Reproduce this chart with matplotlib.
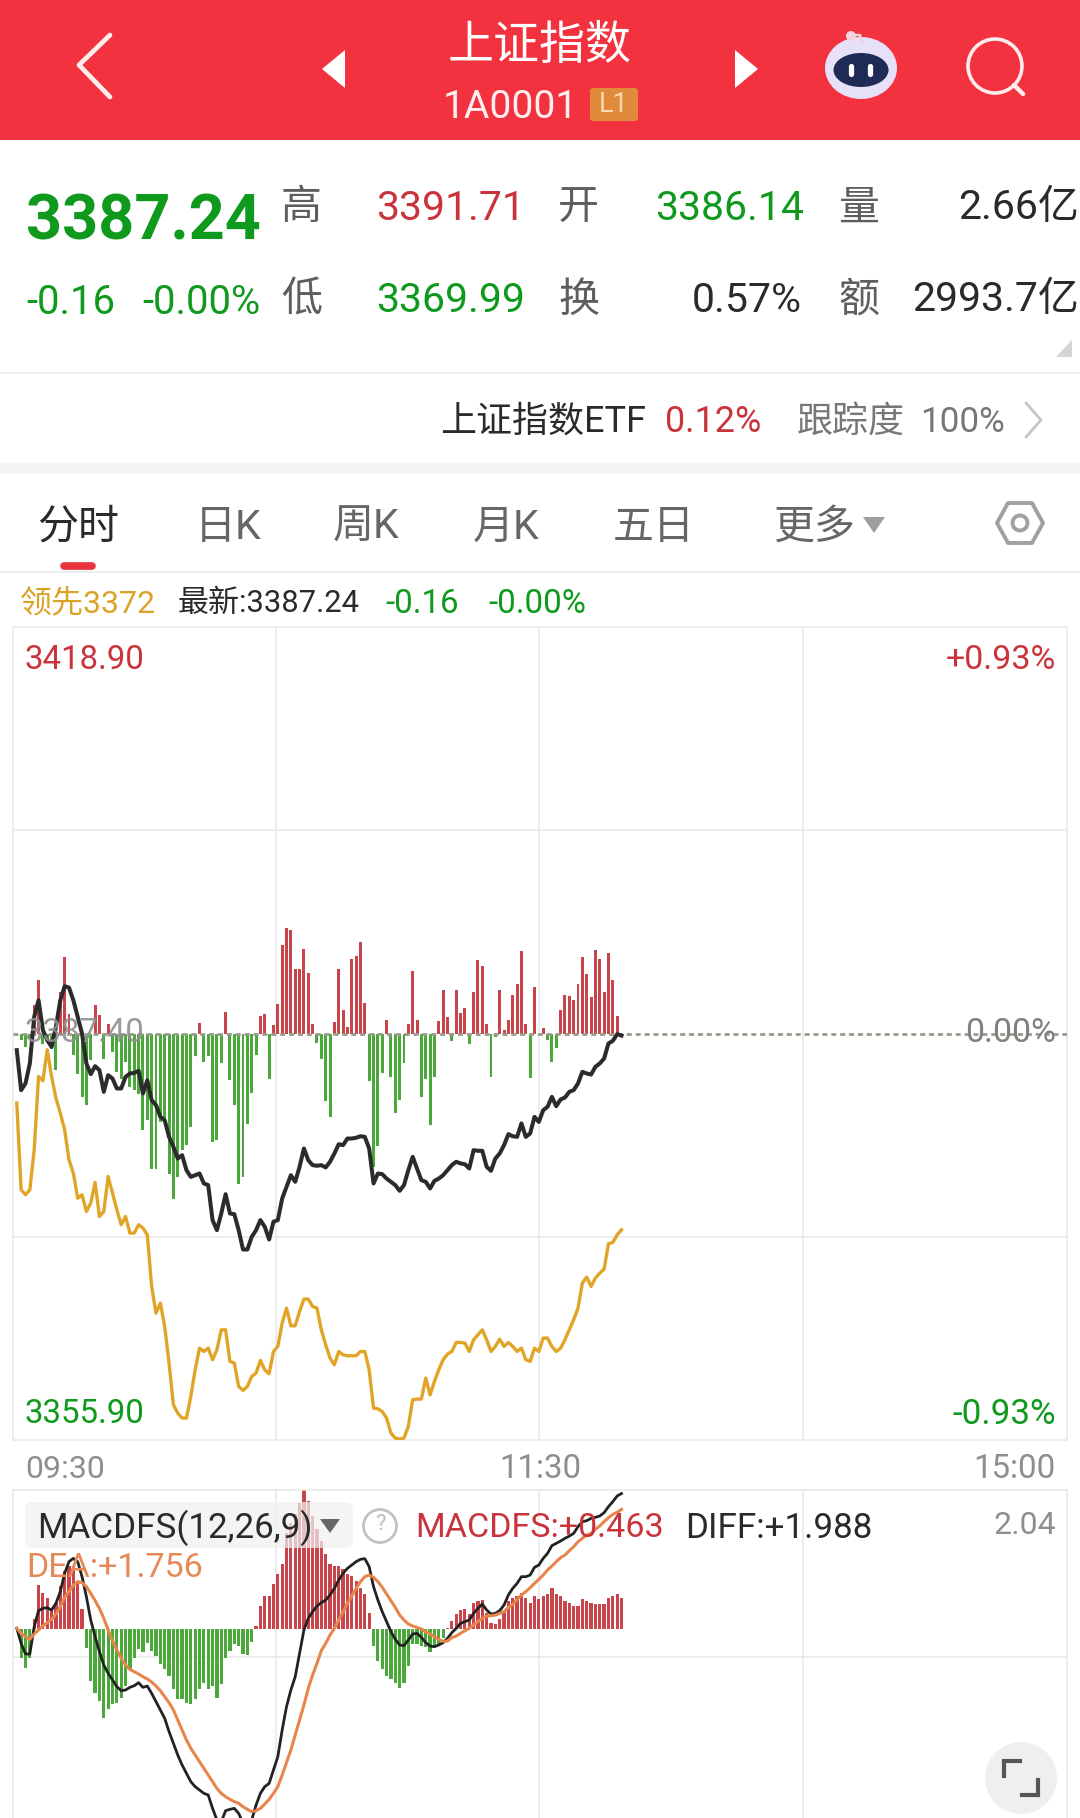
import numpy as np
import matplotlib
matplotlib.use('Agg')
import matplotlib.pyplot as plt
from matplotlib.patches import Rectangle, Circle, FancyBboxPatch, Polygon, Ellipse

plt.rcParams['font.family'] = ['Roboto', 'Noto Sans CJK SC', 'DejaVu Sans']

# ---------- data ----------
PREV_CLOSE = 3387.40
PRICE_LOW_AXIS = 3355.90
PRICE_HIGH_AXIS = 3418.90

price = [3386.11,3383.01,3383.53,3385.08,3388.69,3389.98,3387.66,3386.88,3386.37,3387.92,
3389.98,3391.07,3390.96,3389.98,3388.69,3387.40,3385.08,3384.25,3384.87,3384.56,
3382.88,3384.17,3383.91,3383.14,3383.14,3384.04,3384.30,3384.35,3384.51,3382.75,
3383.78,3382.23,3381.85,3380.94,3380.68,3379.39,3378.62,3377.71,3377.97,3376.81,
3376.29,3376.42,3376.55,3375.78,3375.65,3372.94,3372.16,3373.45,3374.95,3373.45,
3373.40,3372.16,3370.66,3370.66,3371.64,3372.16,3372.94,3372.42,3371.44,3372.81,
3372.94,3374.61,3375.52,3376.42,3375.91,3377.07,3378.49,3377.58,3377.20,3377.15,
3377.20,3377.02,3377.46,3378.10,3378.82,3378.75,3379.26,3379.26,3379.32,3379.44,
3379.39,3378.49,3375.78,3376.55,3376.50,3376.16,3375.91,3375.65,3375.21,3375.65,
3376.81,3377.84,3376.94,3376.03,3375.91,3375.39,3375.98,3376.16,3376.42,3376.81,
3377.20,3377.46,3377.33,3377.27,3376.94,3378.36,3378.31,3378.31,3377.07,3376.76,
3377.71,3378.10,3378.75,3379.60,3379.44,3379.39,3380.43,3379.39,3379.65,3380.94,
3380.55,3381.46,3381.72,3382.49,3381.77,3382.29,3382.44,3382.88,3383.01,3383.53,
3384.43,3384.30,3384.22,3384.82,3385.08,3385.46,3386.63,3386.83,3387.35,3387.24]

leader = [3382.01,3375.29,3374.90,3375.29,3378.39,3384.07,3383.74,3386.14,3384.07,3382.39,
3381.23,3379.94,3377.61,3376.58,3374.64,3374.90,3373.61,3374.26,3375.86,3373.22,
3373.61,3376.32,3375.03,3373.74,3372.58,3373.22,3371.93,3371.93,3372.58,3372.32,
3371.80,3367.80,3365.73,3366.51,3364.70,3361.86,3358.63,3357.98,3357.60,3357.60,
3359.28,3361.34,3363.02,3362.76,3363.02,3362.12,3362.89,3364.44,3364.44,3361.99,
3361.86,3360.05,3359.74,3360.05,3360.83,3361.08,3362.07,3361.34,3361.03,3362.76,
3363.15,3364.96,3366.12,3364.75,3364.75,3365.86,3366.82,3366.82,3366.25,3366.12,
3364.44,3363.28,3362.25,3361.73,3362.76,3362.50,3362.43,3362.43,3362.43,3362.76,
3362.76,3361.34,3358.37,3358.32,3358.11,3357.60,3356.43,3356.05,3355.97,3356.05,
3356.95,3359.02,3359.07,3359.07,3360.70,3359.40,3360.44,3361.34,3362.12,3362.56,
3362.76,3363.46,3363.46,3363.41,3362.76,3363.67,3364.05,3364.44,3363.67,3362.76,
3363.15,3363.72,3363.15,3363.46,3363.15,3362.76,3363.02,3362.12,3361.99,3363.02,
3362.76,3363.80,3363.80,3363.15,3362.76,3363.02,3363.67,3364.44,3365.22,3366.12,
3368.06,3368.52,3367.80,3368.45,3368.83,3369.14,3371.11,3371.21,3371.80,3372.19]

flow = [0,-18,-40,-12,85,160,-30,-20,-45,-110,125,230,60,-65,-120,-190,-215,-80,85,55,
-75,30,-55,-115,-135,-85,-160,-170,-180,-290,-260,-405,-405,-265,-255,-420,-495,-430,-350,-335,
-280,-68,33,-85,-68,-325,-318,-88,65,-140,-213,-450,-430,-270,-178,-65,52,60,-135,25,
88,265,317,312,195,195,253,183,30,-27,-75,-203,-250,35,193,72,20,225,232,275,
92,-143,-400,-337,-118,40,-130,-238,-200,-87,28,188,40,-190,-135,-275,-130,38,132,50,
-22,130,62,77,-32,125,222,202,30,-130,-10,130,10,40,115,150,247,28,-133,140,
0,18,-20,-85,-42,72,115,112,100,148,230,178,110,250,225,125,242,160,52]

macd_hist = [0,-.415,-.561,-.415,.146,.644,.537,.464,.293,.390,.634,.854,.927,.927,.683,.293,
-.268,-.756,-.927,-1.049,-1.293,-1.171,-1.098,-1.074,-1.000,-.830,-.586,-.415,-.293,-.332,-.195,-.317,-.390,
-.512,-.586,-.683,-.869,-1.015,-1.025,-1.083,-1.098,-1.025,-.878,-.781,-.878,-.830,-1.000,-.805,-.415,-.317,
-.220,-.244,-.366,-.381,-.185,
.049,.342,.488,.488,.659,.805,.952,1.415,1.562,1.684,1.854,2.040,1.879,1.659,1.464,1.293,1.098,.952,.927,.927,
.878,.805,.781,.708,.610,.512,.244,
-.244,-.464,-.586,-.683,-.732,-.781,-.854,-.781,-.537,-.220,-.220,-.244,-.254,-.332,-.244,-.244,-.122,
.024,.122,.220,.283,.293,.220,.381,.415,.429,.244,.098,.073,.146,.268,.415,.464,.488,.537,.464,.390,
.488,.439,.488,.512,.610,.512,.488,.415,.390,.342,.342,.439,.415,.381,.376,.366,.366,.464,.488,.512,.454]

diff = [.015,-.205,-.361,-.361,.039,.273,.307,.317,.283,.381,.551,.820,.991,1.039,.991,.771,.478,.137,-.107,-.327,
-.522,-.644,-.742,-.839,-.898,-.888,-.849,-.825,-.781,-.849,-.830,-.937,-1.059,-1.181,-1.303,-1.498,-1.669,-1.840,-1.986,-2.108,
-2.230,-2.303,-2.352,-2.401,-2.425,-2.621,-2.791,-2.816,-2.655,-2.635,-2.621,-2.694,-2.840,-2.889,-2.791,-2.572,-2.401,-2.303,-2.255,-2.059,
-1.864,-1.474,-1.132,-.888,-.693,-.351,-.010,.161,.259,.342,.390,.429,.503,.600,.722,.820,.893,.942,.991,1.025,
1.035,.917,.625,.429,.259,.112,-.034,-.146,-.229,-.239,-.156,-.068,-.059,-.117,-.195,-.244,-.254,-.229,-.195,-.132,
-.049,.015,.088,.112,.137,.234,.307,.371,.283,.224,.234,.273,.356,.503,.600,.673,.771,.771,.795,.908,
.942,1.039,1.113,1.225,1.259,1.293,1.332,1.366,1.405,1.503,1.576,1.591,1.625,1.640,1.659,1.708,1.796,1.869,1.952,1.988]

dea = [.015,-.059,-.107,-.146,-.068,-.010,.049,.098,.146,.224,.332,.468,.551,.649,.698,.683,.625,.527,.420,.307,
.161,-.010,-.166,-.303,-.425,-.522,-.586,-.620,-.654,-.693,-.727,-.771,-.830,-.898,-.986,-1.074,-1.181,-1.327,-1.474,-1.620,
-1.742,-1.840,-1.937,-2.035,-2.133,-2.230,-2.328,-2.401,-2.450,-2.489,-2.523,-2.547,-2.596,-2.635,-2.669,-2.655,-2.621,-2.557,-2.489,-2.401,
-2.303,-2.133,-1.952,-1.767,-1.547,-1.327,-1.108,-.864,-.669,-.498,-.312,-.205,-.083,.015,.137,.259,.381,.488,.600,.698,
.771,.795,.761,.698,.615,.517,.420,.322,.210,.137,.078,.049,.029,.005,-.034,-.068,-.107,-.146,-.176,-.171,
-.122,-.098,-.059,-.020,.015,.063,.112,.161,.195,.200,.210,.234,.259,.317,.366,.439,.503,.551,.610,.673,
.732,.795,.869,.927,.991,1.049,1.088,1.152,1.210,1.283,1.332,1.381,1.405,1.464,1.513,1.576,1.635,1.684,1.713,1.756]

time_labels = ['09:30', '11:30', '15:00']
W, H = 1080, 1818
RED = '#C9343C'; GREEN = '#0F9A1E'; DARK = '#2A2A2A'; GRAY = '#8E8E8E'; GRID = '#E8E8E8'
BAR_RED = '#C8454C'; BAR_GREEN = '#4BA83A'

fig = plt.figure(figsize=(W / 100, H / 100), dpi=100, facecolor='white')

def box(l, t, r, b):
    return [l / W, 1 - b / H, (r - l) / W, (b - t) / H]

XLIM = (-0.87, 241.4)
X_MID = [59.6, 120, 180.7]

# ---------- main chart ----------
ax_flow = fig.add_axes(box(13, 627, 1067, 1440))
ax_flow.set_xlim(*XLIM); ax_flow.set_ylim(-1219.5, 1219.5)
fx = np.arange(len(flow)); fv = np.array(flow, float)
ax_flow.bar(fx, fv, width=0.68, color=[BAR_RED if v > 0 else BAR_GREEN for v in fv], linewidth=0)
ax_flow.set_xticks(X_MID); ax_flow.set_yticks([-609.75, 609.75])
ax_flow.grid(True, color=GRID, lw=1.1); ax_flow.set_axisbelow(True)
ax_flow.tick_params(length=0, labelbottom=False, labelleft=False)
for s in ax_flow.spines.values():
    s.set_color(GRID); s.set_linewidth(1.1)

ax_price = ax_flow.twinx()
ax_price.set_ylim(PRICE_LOW_AXIS, PRICE_HIGH_AXIS)
ax_price.set_yticks([]); ax_price.patch.set_visible(False)
for s in ax_price.spines.values():
    s.set_visible(False)
ax_price.axhline(PREV_CLOSE, color='#9A9A8C', lw=2.0, ls=(0, (1.8, 1.4)))
ax_price.plot(np.arange(len(leader)), leader, color='#E0A526', lw=2.4, solid_joinstyle='round')
ax_price.plot(np.arange(len(price)), price, color='#2B2B2B', lw=2.9, solid_joinstyle='round')

# ---------- MACD chart ----------
ax_m = fig.add_axes(box(13, 1490, 1067, 1818))
ax_m.set_xlim(*XLIM); ax_m.set_ylim(-2.762, 2.04)
hv = np.array(macd_hist)
ax_m.bar(np.arange(len(hv)), hv, width=0.74, color=[BAR_RED if v > 0 else BAR_GREEN for v in hv], linewidth=0)
ax_m.plot(np.arange(len(diff)), diff, color='#222222', lw=2.0)
ax_m.plot(np.arange(len(dea)), dea, color='#E8854C', lw=2.2)
ax_m.set_xticks(X_MID); ax_m.set_yticks([-0.4])
ax_m.grid(True, color=GRID, lw=1.1); ax_m.set_axisbelow(True)
ax_m.tick_params(length=0, labelbottom=False, labelleft=False)
for k, s in ax_m.spines.items():
    s.set_color(GRID); s.set_linewidth(1.1)
ax_m.spines['bottom'].set_visible(False)

# ---------- page chrome in pixel coordinates ----------
ui = fig.add_axes([0, 0, 1, 1], zorder=10)
ui.set_xlim(0, W); ui.set_ylim(H, 0); ui.axis('off'); ui.patch.set_visible(False)

def T(x, y, s, px, color=DARK, ha='left', **kw):
    ui.text(x, y + 6, s, fontsize=px * 0.72, color=color, ha=ha, va='center', **kw)

def L(xs, ys, color='white', lw=2.4, **kw):
    ui.plot(xs, ys, color=color, lw=lw, solid_capstyle='round', solid_joinstyle='round', **kw)

# header
ui.add_patch(Rectangle((0, 0), W, 140, color='#F2323F', lw=0))
L([110, 79, 110], [35, 65, 97], color='#FFECEC', lw=3.4)
ui.add_patch(Polygon([[345, 50], [345, 88], [322, 69]], color='white', lw=0))
ui.add_patch(Polygon([[735, 50], [735, 88], [758, 69]], color='white', lw=0))
T(540, 40, '上证指数', 46, 'white', 'center', weight='medium')
T(510, 101, '1A0001', 39, '#FFF0F0', 'center')
ui.add_patch(FancyBboxPatch((590, 88), 48, 33, boxstyle='round,pad=0,rounding_size=3', color='#E08A3C', lw=0))
T(614, 99, 'L1', 27, '#F8D9B0', 'center')
ui.add_patch(Ellipse((861, 68), 72, 62, color='#E6E0F8', lw=0))
ui.add_patch(Ellipse((861, 70), 55, 34, color='#1E2B54', lw=0))
ui.add_patch(Circle((851, 36), 5, color='#F3D3DE', lw=0))
L([851, 860, 862], [35, 35, 42], color='#F3D3DE', lw=1.8)
for ex in (851, 870):
    L([ex, ex], [66, 74], color='white', lw=3.8)
ui.add_patch(Circle((995, 66), 27, fill=False, ec='#FFECEC', lw=2.6))
L([1014, 1023], [85, 94], color='#FFECEC', lw=3.2)

# quote block
T(26, 217, '3387.24', 63, GREEN, weight='bold')
T(26, 297, '-0.16', 40, GREEN)
T(142, 297, '-0.00%', 40, GREEN)
for (x, y, s) in [(281, 202, '高'), (558, 202, '开'), (838, 202, '量'),
                  (281, 294, '低'), (558, 294, '换'), (838, 294, '额')]:
    T(x, y, s, 41, '#5E5E5E')
T(376, 202, '3391.71', 41, RED)
T(376, 294, '3369.99', 41, GREEN)
T(655, 202, '3386.14', 41, GREEN)
T(802, 294, '0.57%', 41, DARK, 'right')
T(1079, 202, '2.66亿', 41, DARK, 'right')
T(1079, 294, '2993.7亿', 41, DARK, 'right')
ui.add_patch(Polygon([[1072, 340], [1072, 357], [1056, 357]], color='#D4D4D4', lw=0))
ui.plot([0, W], [373, 373], color='#EBEBEB', lw=1.2)

# ETF row
T(440, 416, '上证指数ETF', 36, DARK)
T(665, 416, '0.12%', 36, RED)
T(797, 416, '跟踪度', 36, '#777777')
T(920, 416, '100%', 35, '#777777')
L([1026, 1041, 1026], [403, 420, 437], color='#C4C4C4', lw=2)
ui.add_patch(Rectangle((0, 463), W, 11, color='#F5F5F5', lw=0))

# tabs
T(37, 521, '分时', 41, DARK)
for x, s in [(195, '日K'), (333, '周K'), (473, '月K'), (613, '五日'), (773, '更多')]:
    T(x, 521, s, 41, '#666666')
ui.add_patch(Polygon([[863, 517], [885, 517], [874, 533]], color='#9E9E9E', lw=0))
ui.add_patch(Polygon([[997, 523], [1008, 503], [1032, 503], [1043, 523], [1032, 543], [1008, 543]],
                     fill=False, ec='#A0A0A0', lw=2.8, joinstyle='round'))
ui.add_patch(Circle((1020, 523), 7.5, fill=False, ec='#A0A0A0', lw=2.8))
L([64, 92], [566, 566], color='#E8323C', lw=5.5)
ui.plot([0, W], [572, 572], color='#EBEBEB', lw=1.2)

# info row
T(20, 598, '领先3372', 32, '#D9A328')
T(178, 598, '最新:3387.24', 31, DARK)
T(385, 598, '-0.16', 33, GREEN)
T(488, 598, '-0.00%', 33, GREEN)

# axis labels
T(25, 654, '3418.90', 33, RED)
T(1056, 654, '+0.93%', 34, RED, 'right')
T(25, 1027, '3387.40', 33, '#8F8F8F', alpha=0.9)
T(1056, 1027, '0.00%', 34, '#808080', 'right')
T(25, 1408, '3355.90', 33, GREEN)
T(1056, 1408, '-0.93%', 35, GREEN, 'right')
T(25, 1463, time_labels[0], 32, GRAY)
T(540, 1463, time_labels[1], 33, GRAY, 'center')
T(1056, 1463, time_labels[2], 33, GRAY, 'right')

# MACD labels
ui.add_patch(FancyBboxPatch((25, 1502), 328, 46, boxstyle='round,pad=0,rounding_size=7',
                            color='#F1F1F1', alpha=0.72, lw=0))
T(37, 1522, 'MACDFS(12,26,9)', 35, DARK)
ui.add_patch(Polygon([[320, 1519], [340, 1519], [330, 1533]], color='#666666', lw=0))
ui.add_patch(Circle((380, 1526), 16.5, fill=False, ec='#C2C2C2', lw=2))
T(380, 1519, '?', 22, '#BDBDBD', 'center')
T(415, 1522, 'MACDFS:+0.463', 34, RED)
T(685, 1522, 'DIFF:+1.988', 35, DARK)
T(26, 1562, 'DEA:+1.756', 34, '#E58A57')
T(1056, 1519, '2.04', 32, GRAY, 'right')

# expand button
ui.add_patch(Circle((1021, 1778), 36, color='#EFEFEF', lw=0))
ui.plot([1004, 1004, 1020], [1776, 1761, 1761], color='#555555', lw=3, solid_joinstyle='miter')
ui.plot([1022, 1038, 1038], [1795, 1795, 1780], color='#555555', lw=3, solid_joinstyle='miter')

fig.savefig('out.png', dpi=100, facecolor='white')
